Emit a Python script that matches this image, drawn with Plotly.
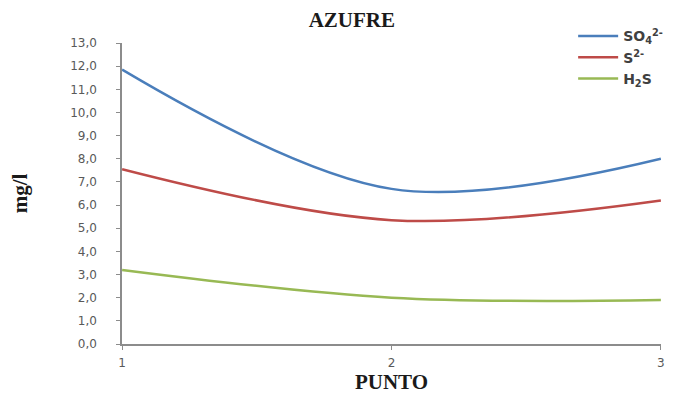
import plotly.graph_objects as go

# sampling points along the x axis
punto = [1, 2, 3]

# sulphur species concentrations (mg/l)
so4 = [11.85, 6.7, 8.0]
s2 = [7.55, 5.35, 6.2]
h2s = [3.2, 2.0, 1.9]

series_names = ["SO<sub>4</sub><sup>2-</sup>", "S<sup>2-</sup>", "H<sub>2</sub>S"]
series_colors = ["#4a7ebb", "#be4b48", "#98b954"]

y_ticks = [i for i in range(0, 14)]

AXIS_GREY = "#8c8c8c"
SERIF = "Liberation Serif"

fig = go.Figure()
for name, values, color in zip(series_names, [so4, s2, h2s], series_colors):
    fig.add_trace(
        go.Scatter(
            x=punto,
            y=values,
            name=name,
            mode="lines",
            line=dict(color=color, width=2.5, shape="spline", smoothing=1),
        )
    )

# the page adds an 8px body margin, so keep the figure inside the window
fig.update_layout(
    width=665,
    height=386,
    separators=",.",
    plot_bgcolor="#ffffff",
    paper_bgcolor="#ffffff",
    margin=dict(l=114, r=12, t=35, b=50, autoexpand=False),
    title=dict(
        text="<b>AZUFRE</b>",
        xref="container",
        x=0.517,
        xanchor="center",
        y=0.969,
        yanchor="middle",
        font=dict(family=SERIF, size=21, color="#1a1a1a"),
    ),
    legend=dict(
        x=0.837,
        xanchor="left",
        y=1.075,
        yanchor="top",
        bgcolor="rgba(0,0,0,0)",
        font=dict(family="DejaVu Sans", size=14, color="#404040", weight=700),
        tracegroupgap=0,
        itemwidth=40,
    ),
    showlegend=True,
)

fig.update_xaxes(
    range=[0.9995, 3.0005],
    tickvals=punto,
    ticktext=[str(p) for p in punto],
    showgrid=False,
    zeroline=False,
    showline=True,
    linecolor=AXIS_GREY,
    linewidth=1.5,
    ticks="outside",
    ticklen=4,
    tickcolor=AXIS_GREY,
    ticklabelstandoff=3,
    ticklabeloverflow="allow",
    tickfont=dict(family="DejaVu Sans", size=12, color="#595959"),
    automargin=False,
    title=dict(
        text="<b>PUNTO</b>",
        standoff=12,
        font=dict(family=SERIF, size=21, color="#1a1a1a"),
    ),
)

fig.update_yaxes(
    range=[0, 13],
    tickvals=y_ticks,
    tickformat=".1f",
    showgrid=False,
    zeroline=False,
    showline=True,
    linecolor=AXIS_GREY,
    linewidth=1.5,
    ticks="outside",
    ticklen=4,
    tickcolor=AXIS_GREY,
    ticklabelstandoff=17,
    tickfont=dict(family="DejaVu Sans", size=12, color="#595959"),
    automargin=False,
    title=dict(
        text="<b>mg/l</b>",
        standoff=50,
        font=dict(family=SERIF, size=21, color="#1a1a1a"),
    ),
)

fig.write_html("out.html")
